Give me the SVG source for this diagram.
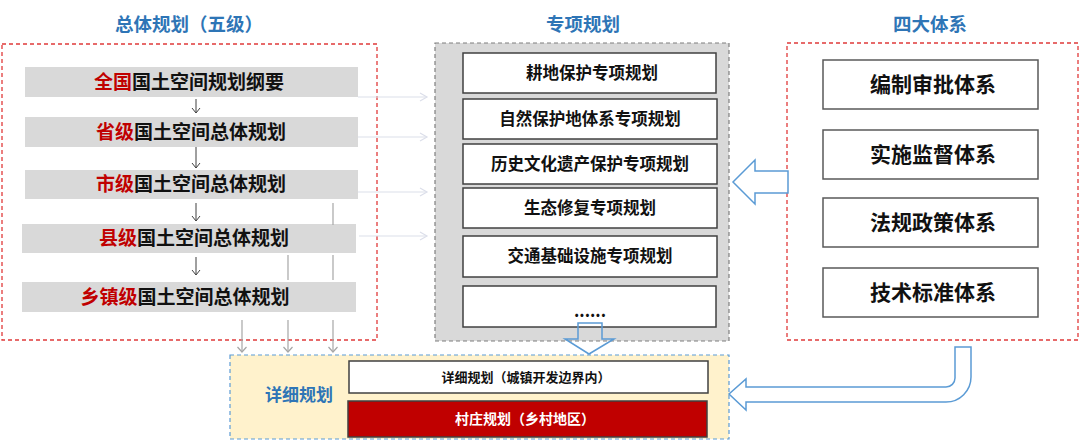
<svg xmlns="http://www.w3.org/2000/svg" width="1080" height="441" viewBox="0 0 1080 441">
  <defs>
    <style>
      text { font-family: "Noto Sans CJK SC", "Liberation Sans", sans-serif; font-weight: bold; text-anchor: middle; }
      .title { font-size: 18.5px; fill: #2E75B6; }
      .bar { fill: #D9D9D9; }
      .bartxt { font-size: 19px; fill: #111111; }
      .red { fill: #C00000; }
      .sbox { fill: #FFFFFF; stroke: #404040; stroke-width: 1.5; }
      .stxt { font-size: 16.5px; fill: #111111; }
      .rbox { fill: #FFFFFF; stroke: #595959; stroke-width: 1.5; }
      .rtxt { font-size: 21px; fill: #111111; }
      .reddash { fill: none; stroke: #E03A3A; stroke-width: 1.3; stroke-dasharray: 4 3; }
      .blk { stroke: #404040; stroke-width: 1; fill: none; }
      .gry { stroke: #A6A6A6; stroke-width: 1.2; fill: none; }
      .lt { stroke: #DCDFEA; stroke-width: 1.2; fill: none; }
      .hollow { fill: #FFFFFF; stroke: #5B9BD5; stroke-width: 1.5; stroke-linejoin: miter; }
    </style>
    <marker id="mBlk" markerUnits="userSpaceOnUse" viewBox="-6 -5 8 10" refX="0" refY="0" markerWidth="8" markerHeight="10" orient="auto">
      <path d="M-5,-4 L0,0 L-5,4" fill="none" stroke="#404040" stroke-width="1"/>
    </marker>
    <marker id="mGry" markerUnits="userSpaceOnUse" viewBox="-6 -5 8 10" refX="0" refY="0" markerWidth="8" markerHeight="10" orient="auto">
      <path d="M-5,-4.5 L0,0 L-5,4.5" fill="none" stroke="#A6A6A6" stroke-width="1.2"/>
    </marker>
    <marker id="mLt" markerUnits="userSpaceOnUse" viewBox="-8 -5 10 10" refX="0" refY="0" markerWidth="10" markerHeight="10" orient="auto">
      <path d="M-7,-4 L0,0 L-7,4" fill="none" stroke="#DCDFEA" stroke-width="1.2"/>
    </marker>
  </defs>

  <rect width="1080" height="441" fill="#FFFFFF"/>

  <!-- Titles -->
  <g id="titles">
    <text class="title" x="189" y="31">总体规划（五级）</text>
    <text class="title" x="583" y="31">专项规划</text>
    <text class="title" x="930" y="31">四大体系</text>
  </g>

  <!-- Overall planning group -->
  <g id="overall-frame">
    <rect class="reddash" x="2" y="44" width="375" height="296"/>
  </g>
  <g id="node-national">
    <rect class="bar" x="25" y="67" width="333" height="30"/>
    <text class="bartxt" x="189" y="89"><tspan class="red">全国</tspan>国土空间规划纲要</text>
  </g>
  <g id="node-province">
    <rect class="bar" x="25" y="117" width="333" height="30"/>
    <text class="bartxt" x="191" y="139"><tspan class="red">省级</tspan>国土空间总体规划</text>
  </g>
  <g id="node-city">
    <rect class="bar" x="25" y="170" width="333" height="29"/>
    <text class="bartxt" x="191" y="191"><tspan class="red">市级</tspan>国土空间总体规划</text>
  </g>
  <g id="node-county">
    <rect class="bar" x="22" y="224" width="334" height="29"/>
    <text class="bartxt" x="194" y="245"><tspan class="red">县级</tspan>国土空间总体规划</text>
  </g>
  <g id="node-township">
    <rect class="bar" x="22" y="282" width="334" height="30"/>
    <text class="bartxt" x="185" y="304"><tspan class="red">乡镇级</tspan>国土空间总体规划</text>
  </g>

  <!-- Special planning group -->
  <g id="special-frame">
    <rect x="435" y="43" width="294" height="298" fill="#D9D9D9" stroke="#7F7F7F" stroke-width="1.2" stroke-dasharray="4 3"/>
  </g>
  <g id="node-s1">
    <rect class="sbox" x="463" y="53" width="253" height="40"/>
    <text class="stxt" x="592" y="79">耕地保护专项规划</text>
  </g>
  <g id="node-s2">
    <rect class="sbox" x="463" y="99" width="254" height="40"/>
    <text class="stxt" x="590" y="125">自然保护地体系专项规划</text>
  </g>
  <g id="node-s3">
    <rect class="sbox" x="463" y="144" width="254" height="40"/>
    <text class="stxt" x="590" y="170">历史文化遗产保护专项规划</text>
  </g>
  <g id="node-s4">
    <rect class="sbox" x="463" y="188" width="254" height="40"/>
    <text class="stxt" x="590" y="214">生态修复专项规划</text>
  </g>
  <g id="node-s5">
    <rect class="sbox" x="463" y="236" width="254" height="41"/>
    <text class="stxt" x="590" y="262">交通基础设施专项规划</text>
  </g>
  <g id="node-s6">
    <rect class="sbox" x="463" y="286" width="253" height="41"/>
    <text class="stxt" x="590" y="317">......</text>
  </g>

  <!-- Four systems group -->
  <g id="systems-frame">
    <rect class="reddash" x="787" y="43" width="291" height="297"/>
  </g>
  <g id="node-r1">
    <rect class="rbox" x="823" y="60" width="215" height="49"/>
    <text class="rtxt" x="933" y="92">编制审批体系</text>
  </g>
  <g id="node-r2">
    <rect class="rbox" x="823" y="130" width="215" height="49"/>
    <text class="rtxt" x="933" y="162">实施监督体系</text>
  </g>
  <g id="node-r3">
    <rect class="rbox" x="823" y="198" width="215" height="49"/>
    <text class="rtxt" x="933" y="230">法规政策体系</text>
  </g>
  <g id="node-r4">
    <rect class="rbox" x="823" y="268" width="215" height="49"/>
    <text class="rtxt" x="933" y="300">技术标准体系</text>
  </g>

  <!-- Detailed planning group -->
  <g id="detail">
    <rect x="230" y="355" width="499" height="84" fill="#FFF2CC" stroke="#5B9BD5" stroke-width="1.2" stroke-dasharray="4 3"/>
    <text class="title" x="299" y="401" style="font-size:17px">详细规划</text>
  </g>
  <g id="node-d1">
    <rect x="349" y="361" width="359" height="32" fill="#FFFFFF" stroke="#404040" stroke-width="1.5"/>
    <text x="526" y="381.5" style="font-size:13px" fill="#111111">详细规划（城镇开发边界内）</text>
  </g>
  <g id="node-d2">
    <rect x="348" y="401" width="359" height="36" fill="#C00000" stroke="#404040" stroke-width="1.5"/>
    <text x="525" y="424" style="font-size:14px" fill="#FFFFFF">村庄规划（乡村地区）</text>
  </g>

  <!-- Connectors -->
  <g id="connectors">
    <!-- black hierarchy arrows -->
    <line class="blk" x1="196" y1="99" x2="196" y2="113" marker-end="url(#mBlk)"/>
    <line class="blk" x1="196" y1="147" x2="196" y2="168" marker-end="url(#mBlk)"/>
    <line class="blk" x1="196" y1="203" x2="196" y2="221" marker-end="url(#mBlk)"/>
    <line class="blk" x1="196" y1="257" x2="196" y2="275" marker-end="url(#mBlk)"/>

    <!-- light arrows to special planning -->
    <line class="lt" x1="358" y1="97" x2="427" y2="97" marker-end="url(#mLt)"/>
    <line class="lt" x1="358" y1="137" x2="427" y2="137" marker-end="url(#mLt)"/>
    <line class="lt" x1="358" y1="192" x2="427" y2="192" marker-end="url(#mLt)"/>
    <line class="lt" x1="359" y1="236" x2="427" y2="236" marker-end="url(#mLt)"/>

    <!-- gray lines to detailed planning -->
    <line class="gry" x1="333" y1="203" x2="333" y2="225"/>
    <line class="gry" x1="333" y1="255" x2="333" y2="280"/>
    <line class="gry" x1="288" y1="255" x2="288" y2="280"/>
    <line class="gry" x1="242" y1="320" x2="242" y2="352" marker-end="url(#mGry)"/>
    <line class="gry" x1="288" y1="320" x2="288" y2="352" marker-end="url(#mGry)"/>
    <line class="gry" x1="333" y1="320" x2="333" y2="352" marker-end="url(#mGry)"/>

    <!-- hollow arrow: four systems -> special planning -->
    <path class="hollow" d="M788,171 L755,171 L755,160 L733,182 L755,204 L755,193 L788,193 Z"/>

    <!-- hollow arrow: special planning -> detailed planning -->
    <path class="hollow" fill="none" style="fill:none" d="M578,323 L602,323 L602,339 L614,339 L589,354 L565,339 L578,339 Z"/>

    <!-- curved hollow arrow: four systems -> detailed planning -->
    <path class="hollow" d="M955,347 L971,347 L971,377 A25,25 0 0 1 946,402 L746,402 L746,410 L729,394 L746,379 L746,387 L946,387 A9,9 0 0 0 955,378 Z"/>
  </g>
</svg>
